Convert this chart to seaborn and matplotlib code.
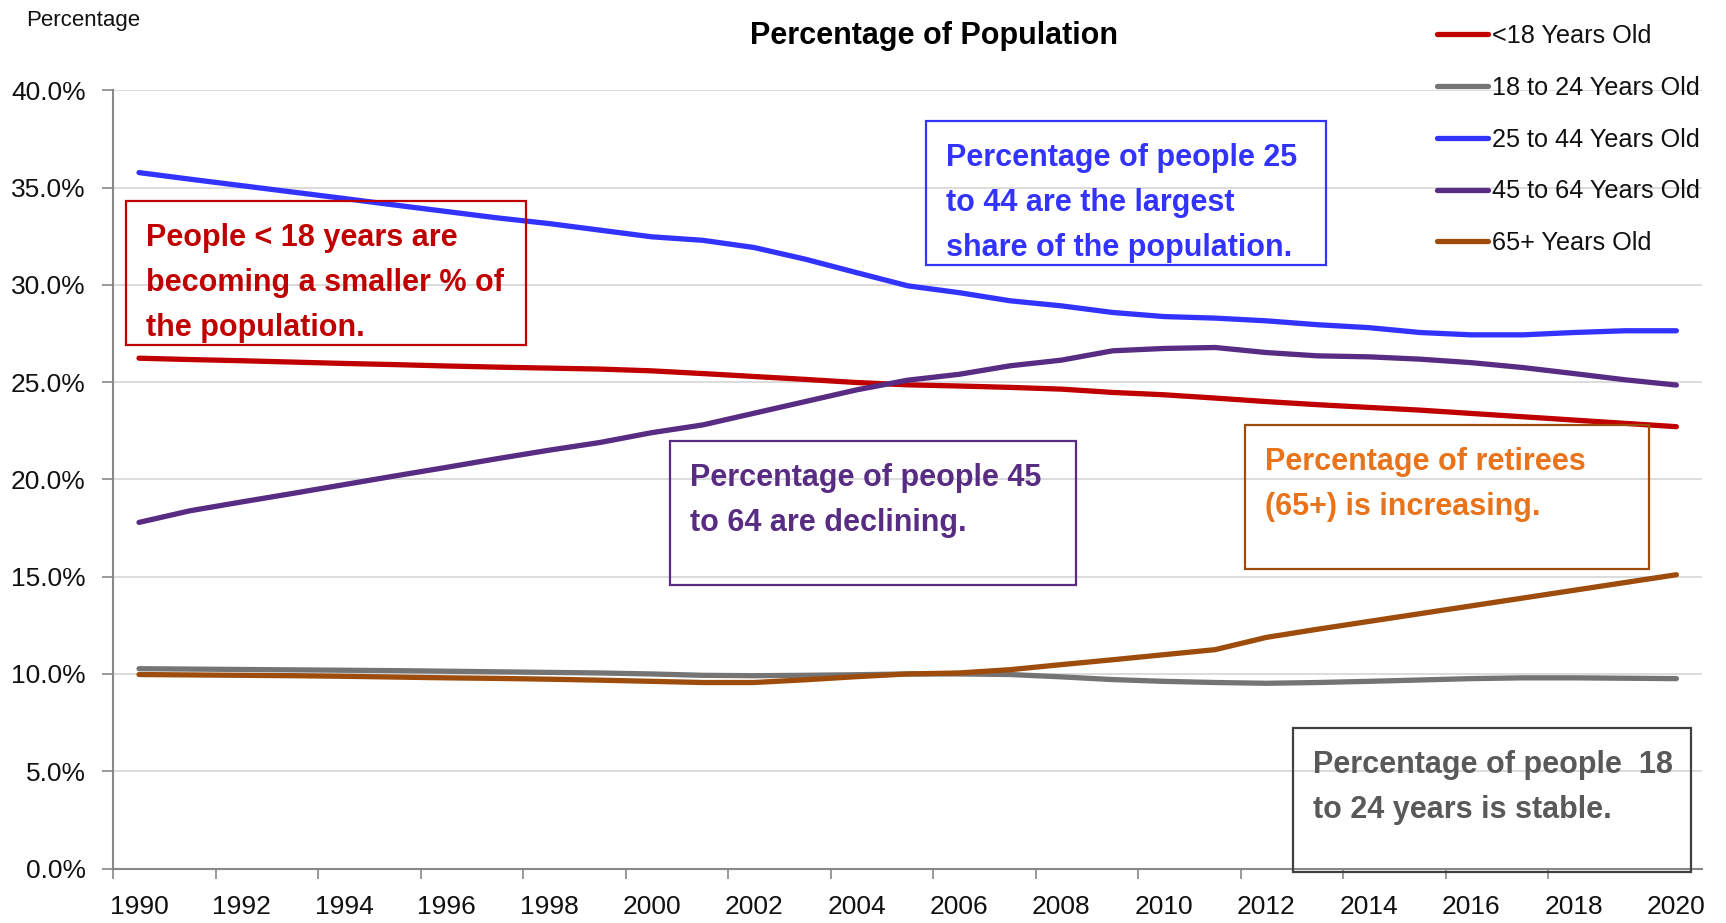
import matplotlib
matplotlib.use("Agg")
import matplotlib.pyplot as plt
from matplotlib.patches import Rectangle
from matplotlib.ticker import FixedLocator, FuncFormatter, NullFormatter
import pandas as pd
import seaborn as sns

# ---- data (share of total population, %) ----
years = list(range(1990, 2021))

under_18 = [26.23, 26.16, 26.10, 26.03, 25.96, 25.90, 25.83, 25.77, 25.72, 25.67,
            25.58, 25.44, 25.29, 25.14, 24.98, 24.86, 24.80, 24.73, 24.64, 24.47,
            24.35, 24.18, 24.00, 23.84, 23.70, 23.56, 23.39, 23.22, 23.05, 22.88,
            22.71]
age_18_24 = [10.27, 10.25, 10.23, 10.21, 10.19, 10.17, 10.14, 10.11, 10.08, 10.05,
             10.00, 9.93, 9.91, 9.93, 9.96, 10.00, 10.00, 9.97, 9.85, 9.71,
             9.62, 9.56, 9.52, 9.56, 9.62, 9.69, 9.76, 9.80, 9.80, 9.78,
             9.76]
age_25_44 = [35.77, 35.43, 35.10, 34.77, 34.44, 34.10, 33.77, 33.44, 33.15, 32.81,
             32.47, 32.29, 31.92, 31.32, 30.63, 29.95, 29.60, 29.18, 28.92, 28.58,
             28.37, 28.29, 28.15, 27.95, 27.80, 27.55, 27.43, 27.43, 27.55, 27.64,
             27.64]
age_45_64 = [17.79, 18.39, 18.84, 19.28, 19.73, 20.18, 20.62, 21.07, 21.50, 21.90,
             22.40, 22.80, 23.40, 24.00, 24.60, 25.10, 25.40, 25.84, 26.13, 26.61,
             26.73, 26.78, 26.52, 26.35, 26.30, 26.18, 26.00, 25.75, 25.44, 25.12,
             24.85]
age_65_plus = [9.97, 9.95, 9.93, 9.91, 9.88, 9.84, 9.80, 9.77, 9.73, 9.68,
               9.62, 9.56, 9.56, 9.70, 9.86, 10.00, 10.05, 10.22, 10.48, 10.73,
               10.99, 11.25, 11.88, 12.30, 12.70, 13.10, 13.50, 13.90, 14.30, 14.70,
               15.10]

series_names = ["<18 Years Old", "18 to 24 Years Old", "25 to 44 Years Old",
                "45 to 64 Years Old", "65+ Years Old"]
series_values = [under_18, age_18_24, age_25_44, age_45_64, age_65_plus]
series_colors = ["#C00000", "#747474", "#3333FF", "#582C83", "#9E4C0C"]

y_ticks = [0, 5, 10, 15, 20, 25, 30, 35, 40]
x_label_years = list(range(1990, 2021, 2))

title_text = "Percentage of Population"
y_title = "Percentage"

notes = [
    ("People < 18 years are\nbecoming a smaller % of\nthe population.", "#C00000", "#C00000"),
    ("Percentage of people 25\nto 44 are the largest\nshare of the population.", "#3333FF", "#3333FF"),
    ("Percentage of people 45\nto 64 are declining.", "#582C83", "#582C83"),
    ("Percentage of retirees\n(65+) is increasing.", "#E8731A", "#9E4C0C"),
    ("Percentage of people  18\nto 24 years is stable.", "#595959", "#404040"),
]

# ---- figure setup ----
W, H, DPI = 1726, 923, 100
sns.set_theme(style="white")
plt.rcParams["font.family"] = ["Liberation Sans", "DejaVu Sans"]


def fx(px):
    return px / W


def fy(py):
    return 1 - py / H


fig = plt.figure(figsize=(W / DPI, H / DPI), dpi=DPI)
fig.patch.set_facecolor("white")
ax = fig.add_axes([fx(113.4), fy(868.5), fx(1702) - fx(113.4), fy(90.3) - fy(868.5)])

long_df = pd.DataFrame(
    [(name, yr, val) for name, vals in zip(series_names, series_values)
     for yr, val in zip(years, vals)],
    columns=["Group", "Year", "Share"],
)

sns.lineplot(data=long_df, x="Year", y="Share", hue="Group",
             hue_order=series_names, palette=dict(zip(series_names, series_colors)),
             linewidth=3.8, ax=ax)
for ln in ax.lines:
    ln.set_solid_capstyle("round")

handles, labels = ax.get_legend_handles_labels()
ax.get_legend().remove()

# ---- axes styling ----
ax.set_xlim(1989.5, 2020.5)
ax.set_ylim(0, 40)
ax.set_xlabel("")
ax.set_ylabel("")

ax.yaxis.set_major_locator(FixedLocator(y_ticks))
ax.yaxis.set_major_formatter(FuncFormatter(lambda v, _: f"{v:.1f}%"))
ax.xaxis.set_major_locator(FixedLocator(x_label_years))
ax.xaxis.set_major_formatter(FuncFormatter(lambda v, _: f"{int(round(v))}"))
ax.xaxis.set_minor_locator(FixedLocator([y - 0.5 for y in x_label_years[:-1]]))
ax.xaxis.set_minor_formatter(NullFormatter())

ax.grid(axis="y", color="#D9D9D9", linewidth=1.3)
ax.grid(axis="x", visible=False)
ax.set_axisbelow(True)

for side in ("top", "right"):
    ax.spines[side].set_visible(False)
for side in ("left", "bottom"):
    ax.spines[side].set_color("#888888")
    ax.spines[side].set_linewidth(1.5)

ax.tick_params(axis="y", which="major", length=8, width=1.2, color="#888888",
               pad=12, labelsize=19, labelcolor="#111111", left=True)
ax.tick_params(axis="x", which="major", length=0, pad=19, labelsize=19,
               labelcolor="#111111", bottom=True)
ax.tick_params(axis="x", which="minor", length=7.5, width=1.2, color="#888888",
               bottom=True)

# ---- title, axis caption, legend ----
fig.text(fx(933.5), fy(21), title_text, ha="center", va="top",
         fontsize=22, fontweight="bold", color="#000000")
fig.text(fx(26), fy(10), y_title, ha="left", va="top", fontsize=16, color="#111111")

leg = fig.legend(handles, labels, loc="upper left",
                 bbox_to_anchor=(fx(1437), fy(24)), frameon=False,
                 borderaxespad=0, borderpad=0, fontsize=18.2,
                 handlelength=2.0, handletextpad=0.16, labelspacing=1.1)
for h in leg.legend_handles:
    h.set_linewidth(3.8)
    h.set_solid_capstyle("round")
for t in leg.get_texts():
    t.set_color("#111111")

# ---- annotation boxes (pixel frames: left, top, right, bottom) ----
frames = [
    (125.7, 200.7, 526.0, 344.7),
    (925.7, 120.7, 1325.7, 265.0),
    (670.0, 441.0, 1076.0, 585.0),
    (1245.3, 425.0, 1649.3, 569.0),
    (1293.3, 728.3, 1691.0, 872.3),
]
for (text, tcolor, ecolor), (x0, y0, x1, y1) in zip(notes, frames):
    fig.add_artist(Rectangle((fx(x0), fy(y1)), fx(x1) - fx(x0), fy(y0) - fy(y1),
                             transform=fig.transFigure, fill=False,
                             edgecolor=ecolor, linewidth=1.6, zorder=5))
    fig.text(fx(x0 + 20), fy(y0 + 22), text, ha="left", va="top",
             fontsize=22, fontweight="bold", color=tcolor,
             linespacing=1.66, zorder=6)

fig.savefig("out.png", dpi=DPI, facecolor="white")
